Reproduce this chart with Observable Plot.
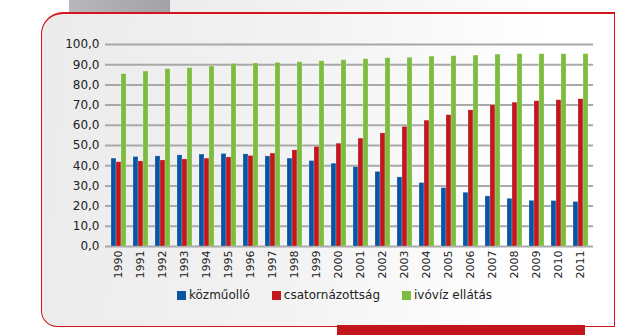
<!DOCTYPE html>
<html>
<head>
<meta charset="utf-8">
<script src="https://cdn.jsdelivr.net/npm/d3@7"></script>
<script src="https://cdn.jsdelivr.net/npm/@observablehq/plot@0.6"></script>
<style>
  html, body { margin: 0; padding: 0; background: #fff; }
  #wrap { position: relative; width: 638px; height: 335px; overflow: hidden; font-family: "DejaVu Sans", sans-serif; }
  .deco { position: absolute; }
  #topband { left: 170px; top: 0; width: 468px; height: 13px; background: linear-gradient(90deg, #ececec 0%, #f6f6f6 50%, #ffffff 85%); }
  #tab { left: 69px; top: 0; width: 101px; height: 13px; background: linear-gradient(90deg, #b8b8bc, #a2a2a6); }
  #panel { left: 41px; top: 12px; width: 572px; height: 312px; border: 1px solid #d2161e; border-top-width: 2px; border-radius: 22px 0 0 16px; background: linear-gradient(95deg, #ebebeb 0%, #f3f3f3 45%, #ffffff 85%); }
  #redblock { left: 337px; top: 325px; width: 248px; height: 10px; background: #c2161c; }
  svg.layer { position: absolute; left: 0; top: 0; }
  #legend { position: absolute; left: 177px; top: 288px; display: flex; align-items: center; font-size: 12px; color: #222; white-space: nowrap; }
  #legend .item { display: flex; align-items: center; margin-right: 22px; }
  #legend .sw { width: 9px; height: 9px; margin-right: 3px; }
</style>
</head>
<body>
<div id="wrap">
  <div class="deco" id="topband"></div>
  <div class="deco" id="tab"></div>
  <div class="deco" id="panel"></div>
  <div class="deco" id="redblock"></div>
  <div id="legend"></div>
</div>
<script>
const years = [1990, 1991, 1992, 1993, 1994, 1995, 1996, 1997, 1998, 1999, 2000, 2001, 2002, 2003, 2004, 2005, 2006, 2007, 2008, 2009, 2010, 2011];
const kozmuollo = [43.5, 44.3, 44.6, 45.1, 45.5, 45.8, 45.6, 44.6, 43.5, 42.3, 41.0, 39.3, 36.9, 34.2, 31.4, 28.9, 26.6, 24.8, 23.6, 22.6, 22.5, 22.0];
const csatornazottsag = [41.7, 42.1, 42.6, 43.1, 43.5, 44.1, 44.8, 46.0, 47.6, 49.3, 50.9, 53.4, 56.0, 59.2, 62.3, 65.0, 67.4, 69.9, 71.2, 71.9, 72.4, 72.9];
const ivoviz = [85.3, 86.6, 87.8, 88.3, 89.1, 90.4, 90.6, 90.9, 91.2, 91.7, 92.2, 92.7, 93.2, 93.4, 94.0, 94.2, 94.5, 95.0, 95.2, 95.2, 95.2, 95.2];
const seriesNames = ["közműolló", "csatornázottság", "ivóvíz ellátás"];
const seriesColors = ["#0a55a3", "#c3161f", "#7cbd3f"];
const yTicks = [0, 10, 20, 30, 40, 50, 60, 70, 80, 90, 100];

const seriesValues = [kozmuollo, csatornazottsag, ivoviz];
const data = years.flatMap((yr, i) => seriesNames.map((s, k) => ({year: yr, series: s, value: seriesValues[k][i]})));

const W = 638, H = 285;
const common = {
  width: W, height: H,
  marginLeft: 105, marginRight: 45, marginTop: 44, marginBottom: 39,
  y: {domain: [0, 100], axis: null}
};

const bg = Plot.plot({
  ...common,
  style: {background: "transparent", fontFamily: "DejaVu Sans, sans-serif", fontSize: "12px", color: "#222"},
  marks: [
    Plot.ruleY(yTicks, {stroke: "#a8a8a8", strokeWidth: 2}),
    Plot.axisY(yTicks, {ticks: yTicks, tickSize: 0, tickPadding: 6, label: null, tickFormat: d => d.toFixed(1).replace(".", ","), fill: "#222"})
  ]
});

const fg = Plot.plot({
  ...common,
  style: {background: "transparent", fontFamily: "DejaVu Sans, sans-serif", fontSize: "11px", color: "#222", overflow: "visible"},
  fx: {domain: years, paddingInner: 0.2, paddingOuter: 0.1, label: null, tickRotate: -90, tickSize: 0, tickPadding: 4, axis: "bottom", tickFormat: d => String(d)},
  x: {domain: seriesNames, axis: null, padding: 0.1},
  color: {domain: seriesNames, range: seriesColors},
  marks: [
    Plot.barY(data, {fx: "year", x: "series", y: "value", fill: "series", stroke: "#ffffff", strokeOpacity: 0.35, strokeWidth: 0.6})
  ]
});

bg.classList.add("layer");
fg.classList.add("layer");
const wrap = document.getElementById("wrap");
wrap.insertBefore(bg, document.getElementById("legend"));
wrap.insertBefore(fg, document.getElementById("legend"));

const legend = document.getElementById("legend");
seriesNames.forEach((s, k) => {
  const it = document.createElement("div");
  it.className = "item";
  const sw = document.createElement("div");
  sw.className = "sw";
  sw.style.background = seriesColors[k];
  const t = document.createElement("span");
  t.textContent = s;
  it.appendChild(sw); it.appendChild(t);
  legend.appendChild(it);
});
</script>
</body>
</html>
